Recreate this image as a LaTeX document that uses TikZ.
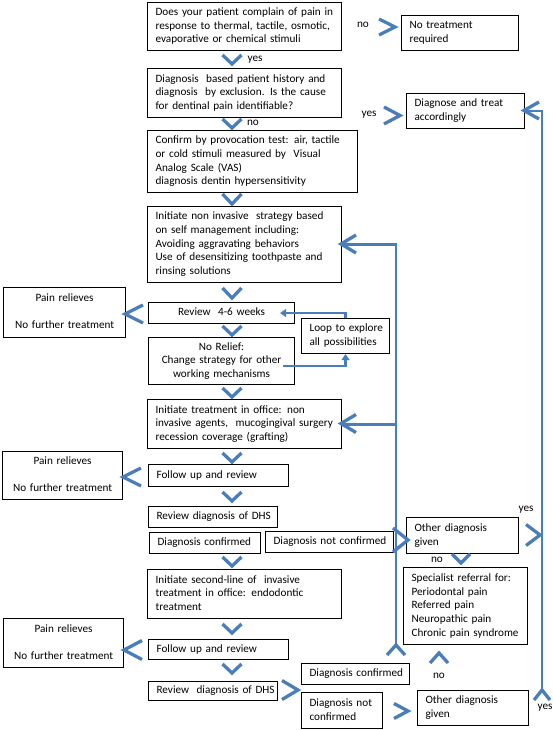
\documentclass[tikz,border=0pt]{standalone}
\usepackage{fontspec}
\setmainfont{Carlito}
\usetikzlibrary{arrows.meta}
\definecolor{bluel}{RGB}{74,126,187}
\tikzset{
  box/.style={draw=black, line width=1.1pt, inner xsep=8pt, inner ysep=1pt, anchor=north west,
    font=\fontsize{11.2}{13.7}\selectfont},
  lbl/.style={inner sep=0pt, font=\fontsize{11.2}{13.7}\selectfont},
  bl/.style={draw=bluel, line width=2.9pt},
  chv/.style={draw=bluel, line width=3.3pt, line join=miter, line cap=butt},
  loopar/.style={draw=bluel, line width=2.3pt, -{Triangle[length=6pt,width=8pt]}}
}
\newcommand\mkboxL[6]{\pgfmathsetlengthmacro\mytw{#4-#2-16}\pgfmathsetlengthmacro\myht{#5-#3}%
  \node[box, text width=\mytw, align=left, minimum height=\myht] (#1) at (#2,#3)
    {\begin{tabular}{@{}l@{}}#6\end{tabular}};}
\newcommand\mkboxC[6]{\pgfmathsetlengthmacro\mytw{#4-#2-16}\pgfmathsetlengthmacro\myht{#5-#3}%
  \node[box, text width=\mytw, align=center, minimum height=\myht] (#1) at (#2,#3)
    {\begin{tabular}{@{}c@{}}#6\end{tabular}};}
% down chevron: x, top y, apex y, half width
\newcommand\mychD[4]{\draw[chv] ({#1-#4},#2) -- (#1,#3) -- ({#1+#4},#2);}
% up chevron: x, apex y, bottom y, half width
\newcommand\mychU[4]{\draw[chv] ({#1-#4},#3) -- (#1,#2) -- ({#1+#4},#3);}
% horizontal chevron: tip x, back x, y, half height
\newcommand\mychH[4]{\draw[chv] (#2,{#3-#4}) -- (#1,#3) -- (#2,{#3+#4});}
\begin{document}
\begin{tikzpicture}[x=1pt,y=-1pt]
\useasboundingbox[fill=white] (0,0) rectangle (553,730);

% boxes
\mkboxL{q1}{147}{2}{341}{50}{Does your patient complain of pain in\\response to thermal, tactile, osmotic,\\evaporative or chemical stimuli}
\mkboxL{notreat}{401}{15}{518}{50}{No treatment\\required}
\mkboxL{q2}{147}{68}{341}{117}{Diagnosis\ \ based patient history and\\diagnosis\ \ by exclusion. Is the cause\\for dentinal pain identifiable?}
\mkboxL{diagtreat}{406}{93}{524}{128}{Diagnose and treat\\accordingly}
\mkboxL{confirm}{147}{130}{357}{192}{Confirm by provocation test: air, tactile\\or cold stimuli measured by\ \ Visual\\Analog Scale (VAS)\\diagnosis dentin hypersensitivity}
\mkboxL{noninv}{147}{206}{341}{282}{Initiate non invasive\ \ strategy based\\on self management including:\\Avoiding aggravating behaviors\\Use of desensitizing toothpaste and\\rinsing solutions}
\mkboxC{review1}{148}{302}{294}{323}{Review\ \ 4-6 weeks}
\mkboxC{pain1}{3}{287}{125}{337}{Pain relieves\\[13.7pt]No further treatment}
\mkboxC{norelief}{148}{337}{294}{384}{No Relief:\\Change strategy for other\\working mechanisms}
\mkboxL{loop}{301}{318}{389}{353}{Loop to explore\\all possibilities}
\mkboxL{office1}{147}{399}{341}{448}{Initiate treatment in office: non\\invasive agents,\ \ mucogingival surgery\\recession coverage (grafting)}
\mkboxL{follow1}{148}{464}{288}{486}{Follow up and review}
\mkboxC{pain2}{2}{451}{122}{499}{Pain relieves\\[13.7pt]No further treatment}
\mkboxL{reviewdhs1}{148}{506}{277}{527}{Review diagnosis of DHS}
\mkboxL{dxconf1}{149}{532}{260}{553}{Diagnosis confirmed}
\mkboxL{dxnot1}{265}{531}{393}{552}{Diagnosis not confirmed}
\mkboxL{other1}{406}{517}{518}{553}{Other diagnosis\\given}
\mkboxL{second}{147}{569}{341}{618}{Initiate second-line of\ \ invasive\\treatment in office: endodontic\\treatment}
\mkboxL{special}{403}{567}{527}{644}{Specialist referral for:\\Periodontal pain\\Referred pain\\Neuropathic pain\\Chronic pain syndrome}
\mkboxL{follow2}{148}{639}{288}{659}{Follow up and review}
\mkboxC{pain3}{3}{618}{123}{667}{Pain relieves\\[13.7pt]No further treatment}
\mkboxL{reviewdhs2}{148}{681}{277}{700}{Review\ \ diagnosis of DHS}
\mkboxL{dxconf2}{301}{663}{409}{684}{Diagnosis confirmed}
\mkboxL{dxnot2}{301}{692}{382}{728}{Diagnosis not\\confirmed}
\mkboxL{other2}{417}{690}{528}{725}{Other diagnosis\\given}

% labels
\node[lbl] (lno1) at (363,25) {no};
\node[lbl] (lyes1) at (255,60) {yes};
\node[lbl] (lno2) at (253,123) {no};
\node[lbl] (lyes2) at (369,115) {yes};
\node[lbl] (lyes3) at (526,510) {yes};
\node[lbl] (lno3) at (437,560) {no};
\node[lbl] (lno4) at (439,676) {no};
\node[lbl] (lyes4) at (545,708) {yes};

% down chevrons of the main column
\mychD{232}{55}{64}{9.5}
\mychD{232}{119}{128}{9.5}
\mychD{232}{194}{204}{9.5}
\mychD{232}{288}{298}{9.5}
\mychD{232}{326}{335}{9.5}
\mychD{232}{388}{397}{9.5}
\mychD{232}{453}{462}{9.5}
\mychD{232}{492}{501}{9.5}
\mychD{232}{557}{566}{9.5}
\mychD{232}{624}{633}{9.5}
\mychD{232}{664}{673}{9.5}
\mychD{461}{554}{563}{9}

% horizontal chevrons
\mychH{395}{379}{27}{8}
\mychH{400}{384}{115.5}{8.5}
\mychH{408}{393}{540}{12}
\mychH{540}{526}{535}{10.5}
\mychH{298}{282}{690}{9.5}
\mychH{408}{394}{711}{7.5}
\mychH{125}{143}{314}{9}
\mychH{123}{141}{477}{9}
\mychH{124}{142}{650}{9.5}

% blue return lines
\coordinate (mb) at (396,645);
\coordinate (rb) at (542,690);
\draw[bl] (mb) |- (noninv.east);
\draw[bl] (mb |- office1.east) -- (office1.east);
\draw[bl] (rb) |- (diagtreat.east);
\mychH{341}{356}{244}{9}
\mychH{341}{356}{423.5}{9}
\mychH{524}{539}{110.5}{8.5}
\mychU{396}{645}{655}{9}
\mychU{439}{653}{663}{9}
\mychU{542}{690}{700}{8}

% loop arrows
\draw[loopar] (loop.north) |- ([xshift=-15pt]review1.east);
\draw[loopar] ([xshift=-12pt,yshift=-5pt]norelief.east) -| (loop.south);
\end{tikzpicture}
\end{document}
